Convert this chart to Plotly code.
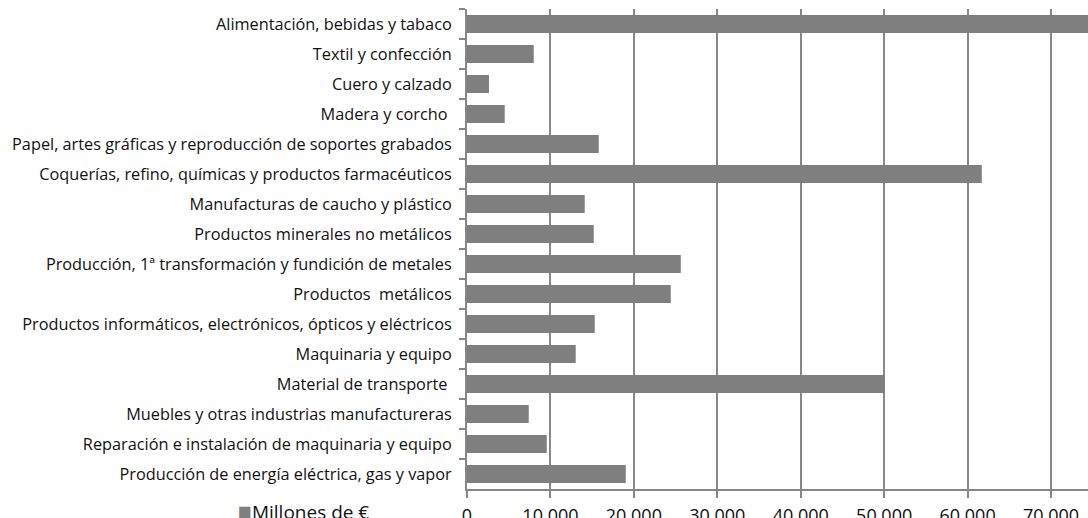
import plotly.graph_objects as go

categories = [
    "Alimentación, bebidas y tabaco",
    "Textil y confección",
    "Cuero y calzado",
    "Madera y corcho ",
    "Papel, artes gráficas y reproducción de soportes grabados",
    "Coquerías, refino, químicas y productos farmacéuticos",
    "Manufacturas de caucho y plástico",
    "Productos minerales no metálicos",
    "Producción, 1ª transformación y fundición de metales",
    "Productos  metálicos",
    "Productos informáticos, electrónicos, ópticos y eléctricos",
    "Maquinaria y equipo",
    "Material de transporte ",
    "Muebles y otras industrias manufactureras",
    "Reparación e instalación de maquinaria y equipo",
    "Producción de energía eléctrica, gas y vapor",
]
values = [90000, 8000, 2640, 4520, 15790, 61700, 14110, 15190, 25620, 24420,
          15310, 13030, 50040, 7400, 9560, 19030]
tick_vals = [0, 10000, 20000, 30000, 40000, 50000, 60000, 70000]
tick_text = ["0", "10 000", "20 000", "30 000", "40 000", "50 000", "60 000", "70 000"]
series_name = "Millones de €"

GRID = "#878787"
BAR = "#7f7f7f"
FONT = "Open Sans"
TXT = "#111111"

fig = go.Figure(go.Bar(
    orientation="h", x=values, y=categories, name=series_name,
    marker=dict(color=BAR, line=dict(width=0)), showlegend=False,
))

fig.add_annotation(
    xref="paper", yref="paper", x=-0.372, y=-0.044,
    xanchor="left", yanchor="middle", showarrow=False,
    text=f"<span style='color:{BAR};font-size:23px'>■</span>{series_name}",
    font=dict(size=19, family=FONT, color=TXT),
)

fig.update_layout(
    width=1088, height=518,
    margin=dict(l=467, r=0, t=9, b=29),
    paper_bgcolor="white", plot_bgcolor="white",
    bargap=0.4,
    font=dict(family=FONT, color=TXT),
    xaxis=dict(range=[0, 74430], tickvals=tick_vals, ticktext=tick_text,
               showgrid=True, gridcolor=GRID, gridwidth=2,
               showline=True, linecolor=GRID, linewidth=2,
               ticks="outside", ticklen=7, tickwidth=2, tickcolor=GRID,
               ticklabelstandoff=2, automargin=False,
               tickfont=dict(size=18, family=FONT, color=TXT),
               zeroline=False, fixedrange=True),
    yaxis=dict(autorange="reversed", showgrid=False,
               showline=True, linecolor=GRID, linewidth=2,
               ticks="outside", ticklen=6, tickwidth=2, tickcolor=GRID,
               tickson="boundaries", ticklabelstandoff=10, automargin=False,
               tickfont=dict(size=16.3, family=FONT, color=TXT),
               fixedrange=True),
)

fig.write_html(
    "out.html",
    config={"displayModeBar": False, "staticPlot": True},
    post_script="document.body.style.margin='0';document.body.style.overflow='hidden';",
)
